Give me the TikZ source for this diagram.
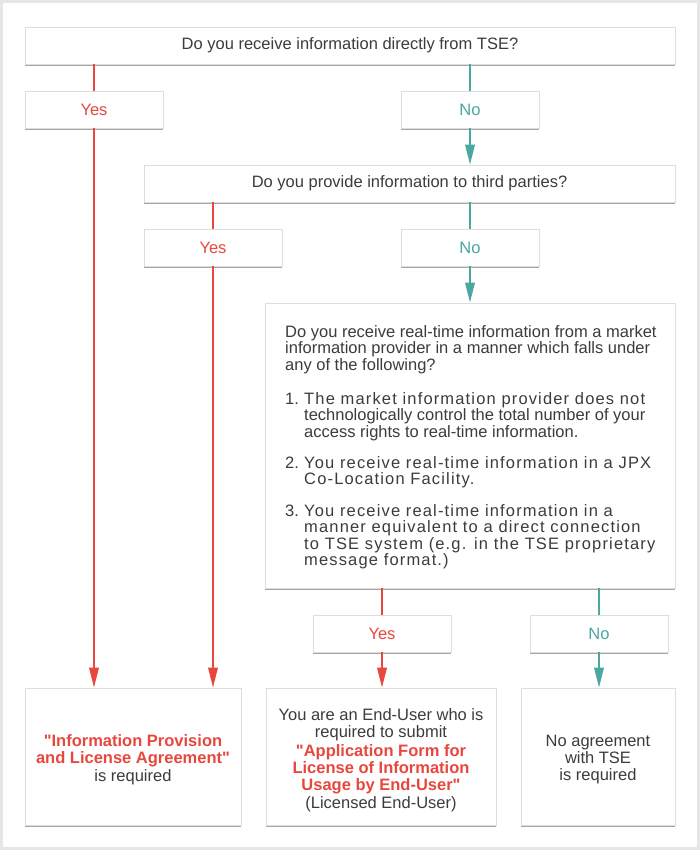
\documentclass[tikz,border=0pt]{standalone}
\usepackage{fontspec}
\setmainfont{Liberation Sans}
\newfontfamily\spacedfont[LetterSpace=7]{Liberation Sans}
\newcommand\straightq{\XeTeXglyph\XeTeXcharglyph"22\relax}
\usetikzlibrary{arrows.meta,shadows}
\definecolor{cred}{HTML}{E8473E}
\definecolor{cteal}{HTML}{4AA8A0}
\definecolor{ctext}{HTML}{3C3C3C}
\definecolor{cborder}{HTML}{DDDDDD}
\definecolor{cframe}{HTML}{E6E6E6}
\tikzset{
  box/.style={draw=cborder, line width=0.8pt, fill=white, inner sep=0pt, text=ctext,
    drop shadow={shadow xshift=0pt, shadow yshift=-1.8pt, fill=black!35, opacity=1}},
  qbox/.style={box, minimum height=37pt},
  yesbox/.style={box, minimum width=138pt, minimum height=37pt, text=cred},
  nobox/.style={box, minimum width=138pt, minimum height=37pt, text=cteal},
  resbox/.style={box, minimum height=137pt},
  restext/.style={inner sep=0pt, align=center, text=ctext},
  redline/.style={draw=cred, line width=2pt},
  tealline/.style={draw=cteal, line width=2pt},
  tipped/.style={-{Triangle[length=20pt,width=9.5pt]}},
  txt/.style={anchor=base west, inner sep=0pt, text=ctext},
}
\begin{document}
\begin{tikzpicture}[x=1pt,y=-1pt,font=\fontsize{16.5}{17}\selectfont]
\useasboundingbox (0,0) rectangle (700,850);
\fill[white] (0,0) rectangle (700,850);
\draw[cframe, line width=3pt] (1.5,1.5) rectangle (698.5,848.5);

% question boxes
\node[qbox, minimum width=650pt] (q1) at (350,45.5) {Do you receive information directly from TSE?};
\node[yesbox] (yes1) at (94,109.5) {Yes};
\node[nobox] (no1) at (470,109.5) {No};
\node[qbox, minimum width=531pt] (q2) at (409.5,183.5) {Do you provide information to third parties?};
\node[yesbox] (yes2) at (213,247.5) {Yes};
\node[nobox] (no2) at (470,247.5) {No};
\node[box, minimum width=410pt, minimum height=285pt] (q3) at (470,445.5) {};
\node[yesbox] (yes3) at (382,633.5) {Yes};
\node[nobox] (no3) at (599,633.5) {No};

% big question text
\node[txt] (t1) at (285,337) {Do you receive real-time information from a market};
\node[txt] (t2) at (285,353.7) {information provider in a manner which falls under};
\node[txt] (t3) at (285,370.4) {any of the following?};
\node[txt] (t4) at (285,404) {\makebox[19pt][l]{1.}\spacedfont The market information provider does not};
\node[txt] (t5) at (304,420.7) {technologically control the total number of your};
\node[txt] (t6) at (304,437.2) {access rights to real-time information.};
\node[txt] (t7) at (285,468.3) {\makebox[19pt][l]{2.}\spacedfont You receive real-time information in a JPX};
\node[txt] (t8) at (304,484.6) {\spacedfont Co-Location Facility.};
\node[txt] (t9) at (285,516.3) {\makebox[19pt][l]{3.}\spacedfont You receive real-time information in a};
\node[txt] (t10) at (304,532.7) {\spacedfont manner equivalent to a direct connection};
\node[txt] (t11) at (304,549) {\spacedfont to TSE system (e.g. in the TSE proprietary};
\node[txt] (t12) at (304,565.4) {\spacedfont message format.)};

% result boxes
\node[resbox, minimum width=216pt] (r1) at (133,756.5) {};
\node[resbox, minimum width=230pt] (r2) at (381,756.5) {};
\node[resbox, minimum width=154pt] (r3) at (598,756.5) {};
\node[restext] (r1t) at (133,760)
  {\textcolor{cred}{\bfseries \straightq Information Provision}\\
   \textcolor{cred}{\bfseries and License Agreement\straightq}\\[1pt]
   is required};
\node[restext] (r2t) at (381,760)
  {You are an End-User who is\\
   required to submit\\[2.5pt]
   \textcolor{cred}{\bfseries \straightq Application Form for}\\
   \textcolor{cred}{\bfseries License of Information}\\
   \textcolor{cred}{\bfseries Usage by End-User\straightq}\\[1pt]
   (Licensed End-User)};
\node[restext] (r3t) at (598,760)
  {No agreement\\ with TSE\\ is required};

% connectors
\draw[redline] (q1.south -| yes1) -- (yes1.north);
\draw[redline, tipped] (yes1.south) -- (yes1.south |- r1.north);
\draw[tealline] (q1.south -| no1) -- (no1.north);
\draw[tealline, tipped] (no1.south) -- (no1.south |- q2.north);
\draw[redline] (q2.south -| yes2) -- (yes2.north);
\draw[redline, tipped] (yes2.south) -- (yes2.south |- r1.north);
\draw[tealline] (q2.south -| no2) -- (no2.north);
\draw[tealline, tipped] (no2.south) -- (no2.south |- q3.north);
\draw[redline] (q3.south -| yes3) -- (yes3.north);
\draw[redline, tipped] (yes3.south) -- (yes3.south |- r2.north);
\draw[tealline] (q3.south -| no3) -- (no3.north);
\draw[tealline, tipped] (no3.south) -- (no3.south |- r3.north);
\end{tikzpicture}
\end{document}
